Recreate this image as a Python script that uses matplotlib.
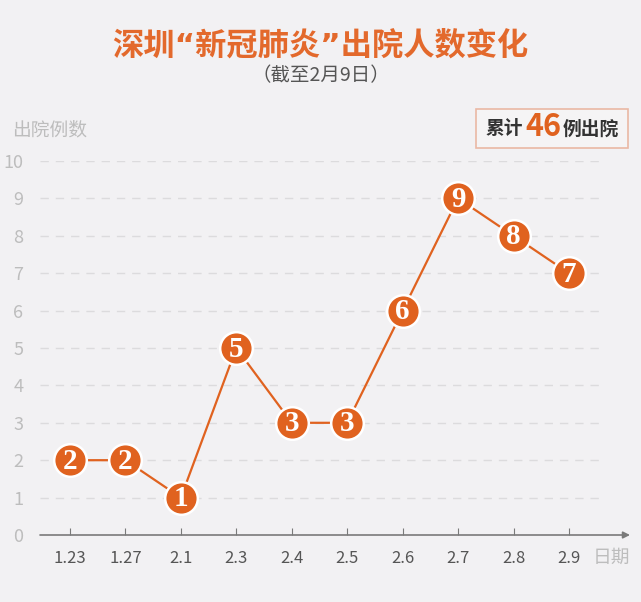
import matplotlib.pyplot as plt
from matplotlib.patches import FancyBboxPatch

plt.rcParams['font.family'] = ['Noto Sans CJK SC', 'DejaVu Sans']

# Data
dates = ['1.23', '1.27', '2.1', '2.3', '2.4', '2.5', '2.6', '2.7', '2.8', '2.9']
discharged = [2, 2, 1, 5, 3, 3, 6, 9, 8, 7]
y_ticks = list(range(0, 11))

orange = '#e0621f'
bg = '#f2f1f3'

fig = plt.figure(figsize=(6.41, 6.02), dpi=100, facecolor=bg)
ax = fig.add_axes([40 / 641, 67 / 602, 590 / 641, 374 / 602])
ax.set_facecolor(bg)

x = list(range(len(dates)))
ax.set_xlim(-30 / 55.44, 560 / 55.44)
ax.set_ylim(0, 10)

# Dashed gridlines
for v in y_ticks[1:]:
    ax.plot([-0.54, 9.65], [v, v], color='#dcdbdd', lw=1, ls=(0, (6, 5)), zorder=1)

# Line and markers
ax.plot(x, discharged, color=orange, lw=1.6, zorder=2)
ax.plot(x, discharged, 'o', ms=23.5, mfc=orange, mec='white', mew=1.8,
        zorder=3, clip_on=False)
for xi, v in zip(x, discharged):
    ax.text(xi, v - 0.03, str(v), ha='center', va='center', color='white',
            fontsize=21, fontweight='bold', family='Liberation Serif', zorder=4)

# Axes styling
for s in ['top', 'right', 'left', 'bottom']:
    ax.spines[s].set_visible(False)
ax.annotate('', xy=(1.0, 0), xytext=(0.0, 0), xycoords='axes fraction',
            arrowprops=dict(arrowstyle='-|>', color='#7a7a7a', lw=1.2,
                            mutation_scale=10, shrinkA=0, shrinkB=0))
ax.set_xticks(x)
ax.set_xticklabels(dates, fontsize=12, color='#555555')
ax.tick_params(axis='x', direction='in', length=5, color='#7a7a7a', pad=11)
ax.set_yticks(y_ticks)
ax.set_yticklabels([str(v) for v in y_ticks], fontsize=13, color='#bdbdbd')
ax.tick_params(axis='y', length=0, pad=12)

# Axis titles
fig.text(12 / 641, 1 - 130 / 602, '出院例数', fontsize=13.5, color='#bdbdbd',
         ha='left', va='center')
fig.text(611 / 641, 1 - 557 / 602, '日期', fontsize=13.5, color='#bdbdbd',
         ha='center', va='center')

# Titles
fig.text(0.5, 1 - 45 / 602, '深圳“新冠肺炎”出院人数变化', fontsize=22.5,
         color='#e3692c', fontweight='bold', ha='center', va='center',
         family=['DejaVu Sans', 'Noto Sans CJK SC'])
fig.text(0.5, 1 - 76 / 602, '（截至2月9日）', fontsize=14, color='#555555',
         ha='center', va='center')

# Total box
box = FancyBboxPatch((476 / 641, 1 - 148 / 602), 152 / 641, 39 / 602,
                     boxstyle='square,pad=0', transform=fig.transFigure,
                     facecolor='#f5f4f5', edgecolor='#eab8a4', lw=1.2)
fig.patches.append(box)
yb = 1 - 129 / 602
fig.text(486 / 641, yb, '累计', fontsize=13.5, color='#333333',
         fontweight='bold', ha='left', va='center')
fig.text(543 / 641, yb + 0.003, '46', fontsize=22, color=orange,
         fontweight='bold', ha='center', va='center')
fig.text(563 / 641, yb, '例出院', fontsize=13.5, color='#333333',
         fontweight='bold', ha='left', va='center')

fig.savefig('out.png', dpi=100, facecolor=bg)
